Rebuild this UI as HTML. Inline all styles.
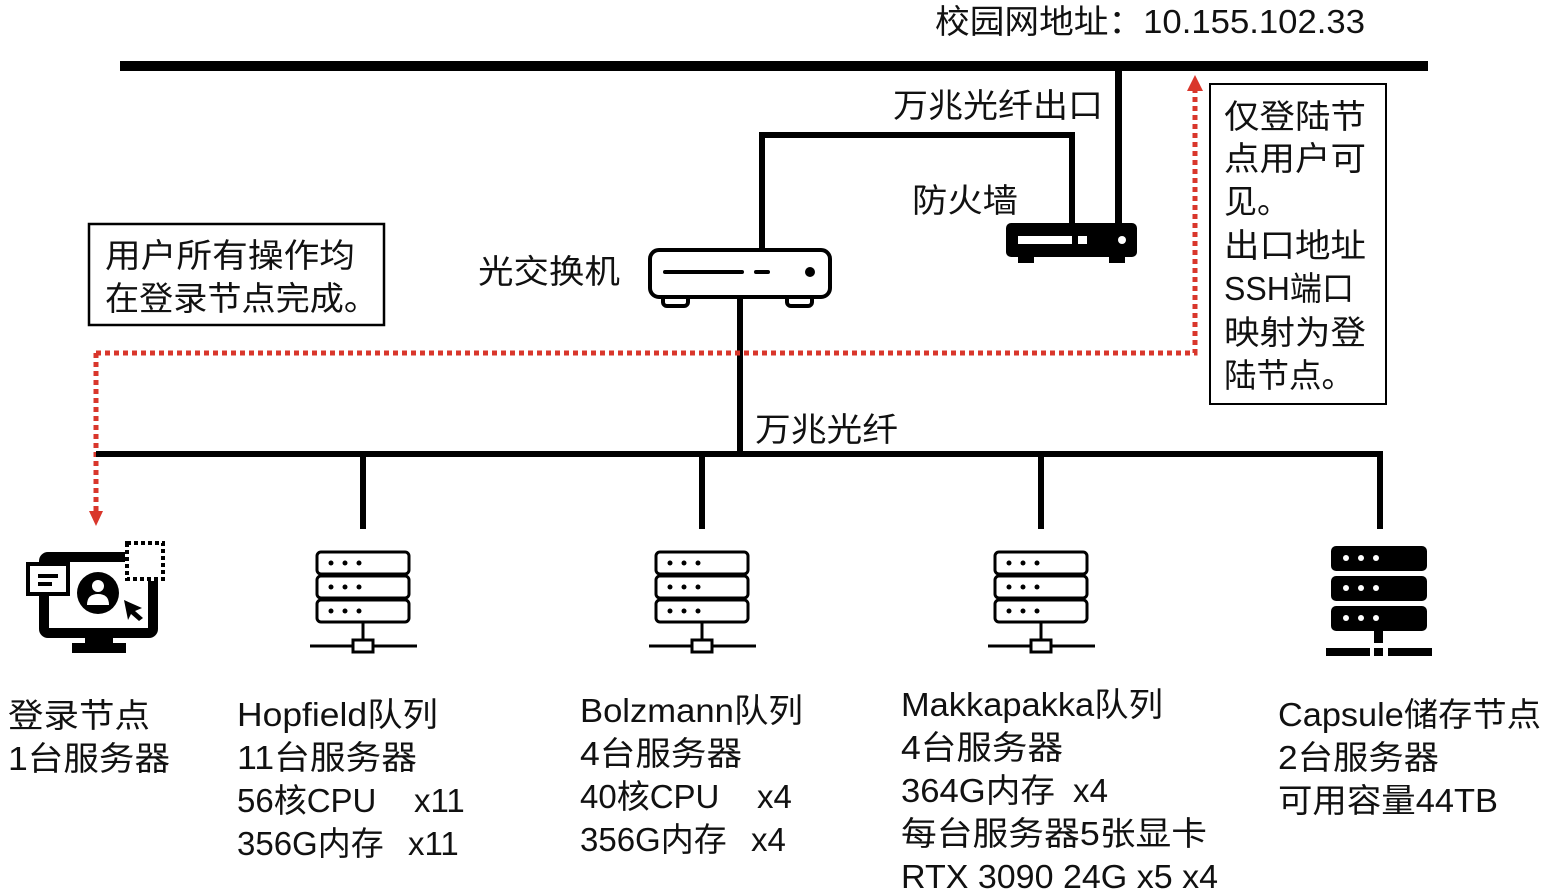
<!DOCTYPE html>
<html><head><meta charset="utf-8"><style>
html,body{margin:0;padding:0;background:#fff;}
svg{display:block;}
text{font-family:"Liberation Sans","Noto Sans CJK SC",sans-serif;font-size:33px;fill:#111;}
</style></head><body>
<svg width="1550" height="894" viewBox="0 0 1550 894" xmlns="http://www.w3.org/2000/svg">
<!-- top bus -->
<rect x="120" y="61" width="1308" height="10" fill="#000"/>
<text x="935" y="33" textLength="430" lengthAdjust="spacingAndGlyphs">校园网地址：10.155.102.33</text>
<!-- line to firewall -->
<rect x="1115" y="66" width="7" height="160" fill="#000"/>
<text x="893" y="117" textLength="210" lengthAdjust="spacingAndGlyphs">万兆光纤出口</text>
<path d="M762 250 V135 H1072 V225" fill="none" stroke="#000" stroke-width="6"/>
<text x="912" y="212" textLength="106" lengthAdjust="spacingAndGlyphs">防火墙</text>
<!-- firewall -->
<rect x="1006" y="223" width="131" height="34" rx="5" fill="#000"/>
<rect x="1018" y="255" width="16" height="8" fill="#000"/>
<rect x="1109" y="255" width="16" height="8" fill="#000"/>
<rect x="1018" y="236" width="54" height="8" fill="#fff"/>
<rect x="1078" y="236" width="9" height="8" fill="#fff"/>
<circle cx="1122" cy="240" r="4" fill="#fff"/>
<!-- switch -->
<rect x="650" y="250" width="180" height="47" rx="9" fill="#fff" stroke="#000" stroke-width="4"/>
<path d="M663 297 v5 a4 4 0 0 0 4 4 h17 a4 4 0 0 0 4 -4 v-5 M787 297 v5 a4 4 0 0 0 4 4 h17 a4 4 0 0 0 4 -4 v-5" fill="none" stroke="#000" stroke-width="4"/>
<line x1="665" y1="272" x2="742" y2="272" stroke="#000" stroke-width="4" stroke-linecap="round"/>
<line x1="756" y1="272" x2="768" y2="272" stroke="#000" stroke-width="4" stroke-linecap="round"/>
<circle cx="810" cy="272" r="5" fill="#000"/>
<text x="478" y="283" textLength="142" lengthAdjust="spacingAndGlyphs">光交换机</text>
<rect x="737" y="297" width="6" height="160" fill="#000"/>
<!-- left box -->
<rect x="89" y="224" width="295" height="101" fill="#fff" stroke="#000" stroke-width="2.5"/>
<text x="105" y="267" textLength="250" lengthAdjust="spacingAndGlyphs">用户所有操作均</text>
<text x="105" y="310" textLength="273" lengthAdjust="spacingAndGlyphs">在登录节点完成。</text>
<!-- red dotted -->
<path d="M96 353 H1195 V90 M96 353 V512" fill="none" stroke="#d9362b" stroke-width="5" stroke-dasharray="5 4"/>
<polygon points="1195,75 1187,91 1203,91" fill="#d9362b"/>
<polygon points="96,526 89,511 103,511" fill="#d9362b"/>
<!-- right box -->
<rect x="1210" y="84" width="176" height="320" fill="#fff" stroke="#000" stroke-width="2"/>
<text x="1224" y="128" textLength="142" lengthAdjust="spacingAndGlyphs">仅登陆节</text>
<text x="1224" y="170" textLength="142" lengthAdjust="spacingAndGlyphs">点用户可</text>
<text x="1224" y="213">见。</text>
<text x="1224" y="257" textLength="142" lengthAdjust="spacingAndGlyphs">出口地址</text>
<text x="1224" y="300" textLength="130" lengthAdjust="spacingAndGlyphs">SSH端口</text>
<text x="1224" y="344" textLength="142" lengthAdjust="spacingAndGlyphs">映射为登</text>
<text x="1224" y="387" textLength="130" lengthAdjust="spacingAndGlyphs">陆节点。</text>
<!-- bottom bus -->
<rect x="96" y="451" width="1287" height="6" fill="#000"/>
<text x="755" y="441" textLength="143" lengthAdjust="spacingAndGlyphs">万兆光纤</text>
<rect x="360" y="451" width="6" height="78" fill="#000"/>
<rect x="699" y="451" width="6" height="78" fill="#000"/>
<rect x="1038" y="451" width="6" height="78" fill="#000"/>
<rect x="1377" y="451" width="6" height="78" fill="#000"/>
<!-- login icon -->
<g>
<rect x="44" y="557" width="109" height="76" rx="4" fill="none" stroke="#000" stroke-width="10"/>
<rect x="125" y="541" width="40" height="40" fill="#fff"/>
<rect x="127" y="543" width="36" height="36" fill="none" stroke="#000" stroke-width="4" stroke-dasharray="4 3"/>
<rect x="85" y="636" width="28" height="10" fill="#000"/>
<rect x="72" y="643" width="54" height="10" fill="#000"/>
<rect x="28" y="564" width="40" height="30" fill="#fff" stroke="#000" stroke-width="4"/>
<rect x="38" y="574" width="20" height="4" fill="#000"/>
<rect x="38" y="582" width="14" height="4" fill="#000"/>
<circle cx="98" cy="593" r="21" fill="#000"/>
<circle cx="98" cy="586" r="6" fill="#fff"/>
<path d="M87 605 q0 -11 11 -11 q11 0 11 11 z" fill="#fff"/>
<polygon points="124,600 142,608 135,611 143,618 139,621 131,614 128,620" fill="#000"/>
</g>
<!-- outline servers -->
<g id="srv">
<rect x="317" y="552" width="92" height="22" rx="4" fill="none" stroke="#000" stroke-width="3"/>
<rect x="317" y="576" width="92" height="22" rx="4" fill="none" stroke="#000" stroke-width="3"/>
<rect x="317" y="600" width="92" height="22" rx="4" fill="none" stroke="#000" stroke-width="3"/>
<g fill="#000">
<circle cx="331" cy="563" r="2.5"/><circle cx="345" cy="563" r="2.5"/><circle cx="359" cy="563" r="2.5"/>
<circle cx="331" cy="587" r="2.5"/><circle cx="345" cy="587" r="2.5"/><circle cx="359" cy="587" r="2.5"/>
<circle cx="331" cy="611" r="2.5"/><circle cx="345" cy="611" r="2.5"/><circle cx="359" cy="611" r="2.5"/>
</g>
<line x1="363" y1="622" x2="363" y2="640" stroke="#000" stroke-width="3"/>
<line x1="310" y1="646" x2="417" y2="646" stroke="#000" stroke-width="3"/>
<rect x="353" y="640" width="20" height="12" fill="#fff" stroke="#000" stroke-width="3"/>
</g>
<use href="#srv" x="339"/>
<use href="#srv" x="678"/>
<!-- solid server -->
<g fill="#000">
<rect x="1331" y="546" width="96" height="25" rx="5"/>
<rect x="1331" y="576" width="96" height="25" rx="5"/>
<rect x="1331" y="606" width="96" height="25" rx="5"/>
<rect x="1374" y="631" width="9" height="12"/>
<rect x="1326" y="648" width="44" height="8"/>
<rect x="1374" y="648" width="9" height="8"/>
<rect x="1388" y="648" width="44" height="8"/>
</g>
<g fill="#fff">
<circle cx="1346" cy="558" r="3"/><circle cx="1361" cy="558" r="3"/><circle cx="1376" cy="558" r="3"/>
<circle cx="1346" cy="588" r="3"/><circle cx="1361" cy="588" r="3"/><circle cx="1376" cy="588" r="3"/>
<circle cx="1346" cy="618" r="3"/><circle cx="1361" cy="618" r="3"/><circle cx="1376" cy="618" r="3"/>
</g>
<!-- labels -->
<text x="8" y="727" textLength="142" lengthAdjust="spacingAndGlyphs">登录节点</text>
<text x="8" y="770" textLength="162" lengthAdjust="spacingAndGlyphs">1台服务器</text>
<text x="237" y="726" textLength="201" lengthAdjust="spacingAndGlyphs">Hopfield队列</text>
<text x="237" y="769" textLength="180" lengthAdjust="spacingAndGlyphs">11台服务器</text>
<text x="237" y="812">56核CPU</text><text x="414" y="812">x11</text>
<text x="237" y="855">356G内存</text><text x="408" y="855">x11</text>
<text x="580" y="722" textLength="223" lengthAdjust="spacingAndGlyphs">Bolzmann队列</text>
<text x="580" y="765" textLength="162" lengthAdjust="spacingAndGlyphs">4台服务器</text>
<text x="580" y="808">40核CPU</text><text x="757" y="808">x4</text>
<text x="580" y="851">356G内存</text><text x="751" y="851">x4</text>
<text x="901" y="716" textLength="262" lengthAdjust="spacingAndGlyphs">Makkapakka队列</text>
<text x="901" y="759" textLength="162" lengthAdjust="spacingAndGlyphs">4台服务器</text>
<text x="901" y="802" textLength="154" lengthAdjust="spacingAndGlyphs">364G内存</text><text x="1073" y="802" textLength="35" lengthAdjust="spacingAndGlyphs">x4</text>
<text x="901" y="845" textLength="306" lengthAdjust="spacingAndGlyphs">每台服务器5张显卡</text>
<text x="901" y="888" textLength="317" lengthAdjust="spacingAndGlyphs">RTX 3090 24G  x5 x4</text>
<text x="1278" y="726" textLength="263" lengthAdjust="spacingAndGlyphs">Capsule储存节点</text>
<text x="1278" y="769" textLength="161" lengthAdjust="spacingAndGlyphs">2台服务器</text>
<text x="1278" y="812" textLength="220" lengthAdjust="spacingAndGlyphs">可用容量44TB</text>
</svg>
</body></html>
